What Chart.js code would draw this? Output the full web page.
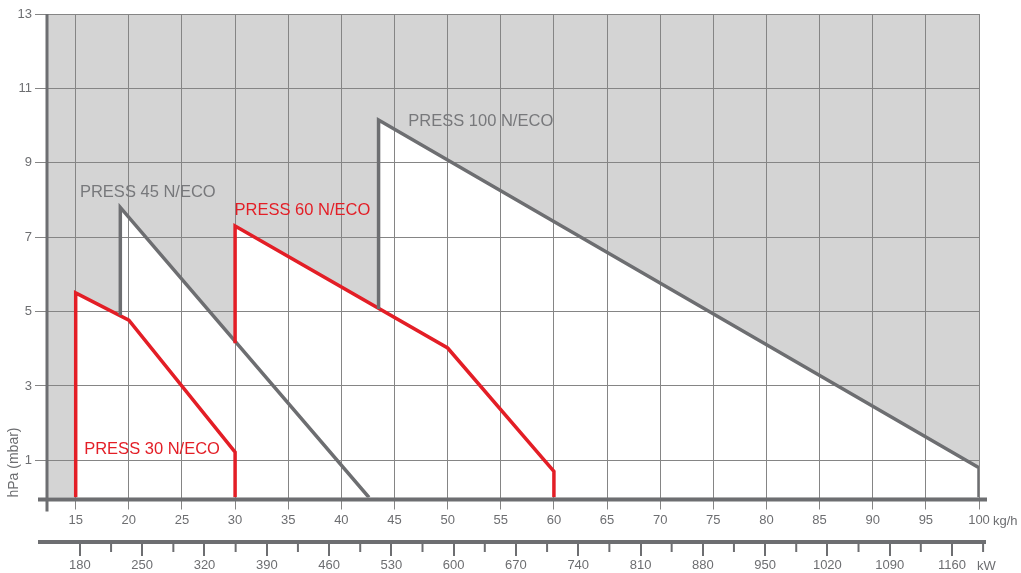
<!DOCTYPE html>
<html>
<head>
<meta charset="utf-8">
<script src="https://cdn.jsdelivr.net/npm/chart.js@4"></script>
<style>
html,body{margin:0;padding:0;background:#fff;}
#wrap{width:1021px;height:573px;position:relative;}
</style>
</head>
<body>
<div id="wrap"><canvas id="c"></canvas></div>
<script>
// ---- data (kg/h, hPa) ----
const kghTicks = [15,20,25,30,35,40,45,50,55,60,65,70,75,80,85,90,95,100];
const kwTicks = [180,250,320,390,460,530,600,670,740,810,880,950,1020,1090,1160];
const kwMinorTicks = [215,285,355,425,495,565,635,705,775,845,915,985,1055,1125,1195];
const pressureTicks = [1,3,5,7,9,11,13];

// visible outlines of each working field
const press30 = [[15,0],[15,5.5],[20,4.77],[30,1.22],[30,0]];
const press45 = [[19.2,4.9],[19.2,7.8],[42.6,0]];
const press60 = [[30,4.15],[30,7.3],[50,4.02],[60,0.7],[60,0]];
const press100 = [[43.5,5.07],[43.5,10.15],[100,0.8],[100,0]];

// full working-field areas (white)
const area30 = [[15,0],[15,5.5],[20,4.77],[30,1.22],[30,0]];
const area45 = [[19.2,0],[19.2,7.8],[42.6,0]];
const area60 = [[30,0],[30,7.3],[50,4.02],[60,0.7],[60,0]];
const area100 = [[43.5,0],[43.5,10.15],[100,0.8],[100,0]];
const fillAreas = [area100, area60, area45, area30];

// series labels: [text, x (kg/h), y (hPa), colour key]
const seriesLabels = [
  ['PRESS 100 N/ECO', 46.3, 10.1, 'gray'],
  ['PRESS 45 N/ECO', 15.4, 8.21, 'gray'],
  ['PRESS 60 N/ECO', 29.95, 7.73, 'red'],
  ['PRESS 30 N/ECO', 15.8, 1.30, 'red']
];

const RED = '#e31e26';
const GRAY = '#6d6e71';
const TXT = '#6d6e71';
const GRID = '#858585';
const FONT = '"Liberation Sans", Arial, sans-serif';

const toXY = a => a.map(p => ({x:p[0], y:p[1]}));

const deco = {
  id:'deco',
  beforeDraw(chart){
    const {ctx, chartArea:a, scales:{x,y}} = chart;
    ctx.save();
    ctx.fillStyle = '#d4d4d4';
    ctx.fillRect(a.left, a.top, x.getPixelForValue(100)-a.left, a.bottom-a.top);
    ctx.fillStyle = '#ffffff';
    for (const poly of fillAreas){
      ctx.beginPath();
      poly.forEach(([vx,vy],i)=>{
        const px=x.getPixelForValue(vx), py=y.getPixelForValue(vy);
        if(i) ctx.lineTo(px,py); else ctx.moveTo(px,py);
      });
      ctx.closePath();
      ctx.fill();
    }
    ctx.restore();
  },
  afterDatasetsDraw(chart){
    const {ctx, scales:{x,y}} = chart;
    ctx.save();
    ctx.font = '16.5px '+FONT;
    ctx.textBaseline = 'middle';
    ctx.textAlign = 'left';
    for (const [t,vx,vy,c] of seriesLabels){
      ctx.fillStyle = c==='red' ? RED : '#77787b';
      ctx.fillText(t, x.getPixelForValue(vx), y.getPixelForValue(vy));
    }
    ctx.restore();
  },
  afterDraw(chart){
    const {ctx, chartArea:a, scales:{x,y,kw}} = chart;
    ctx.save();
    ctx.strokeStyle = GRAY;
    // x axis line
    ctx.lineWidth = 4;
    const y0 = y.getPixelForValue(0)+2;
    ctx.beginPath(); ctx.moveTo(38,y0); ctx.lineTo(x.getPixelForValue(100)+8,y0); ctx.stroke();
    // y axis line
    ctx.lineWidth = 3;
    ctx.beginPath(); ctx.moveTo(a.left, a.top); ctx.lineTo(a.left, y0+12); ctx.stroke();
    // kW axis line
    ctx.lineWidth = 4;
    const yk = kw.top+1;
    ctx.beginPath(); ctx.moveTo(38,yk); ctx.lineTo(x.getPixelForValue(100)+7,yk); ctx.stroke();
    // minor kW ticks
    ctx.lineWidth = 2;
    for (const v of kwMinorTicks){
      const px = kw.getPixelForValue(v);
      ctx.beginPath(); ctx.moveTo(px,yk); ctx.lineTo(px,yk+10); ctx.stroke();
    }
    // unit texts
    ctx.fillStyle = TXT;
    ctx.font = '13px '+FONT;
    ctx.textBaseline = 'middle';
    ctx.textAlign = 'left';
    ctx.fillText('kg/h', 993, 521);
    ctx.fillText('kW', 977, 566);
    ctx.restore();
  }
};

new Chart(document.getElementById('c'), {
  type:'scatter',
  data:{
    datasets:[
      {label:'PRESS 100 N/ECO', data:toXY(press100), borderColor:GRAY},
      {label:'PRESS 60 N/ECO', data:toXY(press60), borderColor:RED},
      {label:'PRESS 45 N/ECO', data:toXY(press45), borderColor:GRAY},
      {label:'PRESS 30 N/ECO', data:toXY(press30), borderColor:RED}
    ].map(d => Object.assign(d, {showLine:true, fill:false, tension:0, pointRadius:0, pointHoverRadius:0, borderWidth:3.5, borderJoinStyle:'miter', xAxisID:'x', yAxisID:'y'}))
  },
  options:{
    responsive:true,
    maintainAspectRatio:false,
    animation:false,
    events:[],
    layout:{padding:{top:14, right:42, left:0, bottom:0}},
    plugins:{legend:{display:false}, tooltip:{enabled:false}},
    scales:{
      x:{
        type:'linear', position:'bottom', weight:0, min:12.3, max:100,
        afterBuildTicks(s){ s.ticks = kghTicks.map(v=>({value:v})); },
        afterFit(s){ s.height = 43.5; },
        grid:{color:GRID, lineWidth:1, tickLength:12, drawOnChartArea:true},
        border:{display:false},
        ticks:{color:TXT, font:{family:FONT, size:13}, padding:3, maxRotation:0, autoSkip:false, callback:v=>String(v)}
      },
      kw:{
        type:'linear', position:'bottom', weight:1, min:143, max:1190.4,
        afterBuildTicks(s){ s.ticks = kwTicks.map(v=>({value:v})); },
        afterFit(s){ s.height = 32; },
        grid:{drawOnChartArea:false, color:GRAY, lineWidth:2, tickLength:15},
        border:{display:false},
        ticks:{color:TXT, font:{family:FONT, size:13}, padding:2, maxRotation:0, autoSkip:false, callback:v=>String(v)}
      },
      y:{
        type:'linear', position:'left', min:0, max:13,
        afterBuildTicks(s){ s.ticks = pressureTicks.map(v=>({value:v})); },
        afterFit(s){ s.width = 47; },
        grid:{color:GRID, lineWidth:1, tickLength:12},
        border:{display:false},
        ticks:{color:TXT, font:{family:FONT, size:13}, padding:3, callback:v=>String(v)},
        title:{display:true, text:'hPa (mbar)', align:'start', color:TXT, font:{family:FONT, size:14}, padding:{top:6, bottom:0}}
      }
    }
  },
  plugins:[deco]
});
</script>
</body>
</html>
